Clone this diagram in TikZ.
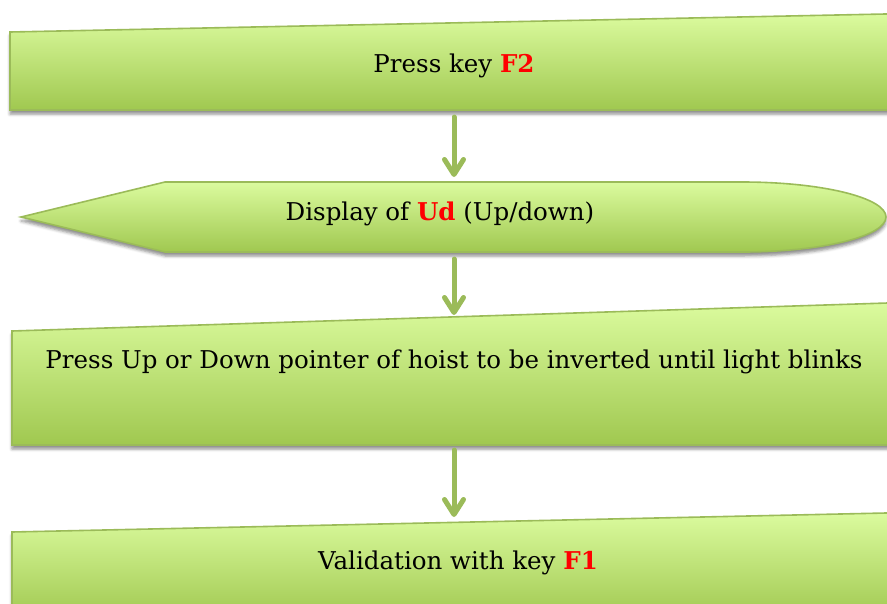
\documentclass[tikz,border=0pt]{standalone}
\usepackage{fontspec}
\setmainfont{DejaVu Serif}
\usetikzlibrary{arrows.meta,shadows.blur}
\definecolor{leafline}{RGB}{155,187,89}
\definecolor{leaftop}{RGB}{219,251,158}
\definecolor{leafbot}{RGB}{160,200,80}
\definecolor{keyred}{RGB}{255,0,0}
\begin{document}
\begin{tikzpicture}[x=1pt,y=-1pt,
  stepshape/.style={draw=leafline,line width=1.6pt,top color=leaftop,bottom color=leafbot,
    blur shadow={shadow xshift=0pt,shadow yshift=-4pt,shadow blur radius=3pt,shadow opacity=45}},
  steptext/.style={anchor=base,font=\fontsize{24.5}{29}\selectfont,inner sep=0pt},
  flow/.style={draw=leafline,line width=5pt,line cap=round,-{Straight Barb[length=15pt,width=19pt,round]}}]
\useasboundingbox (0,0) rectangle (887,603);
\clip (0,0) rectangle (887,603);
% shapes of the four steps
\path[stepshape] (10,32) -- (900,13.7) -- (900,110) -- (10,110) -- cycle;
\path[stepshape] (21,217) -- (165,182) -- (742,182) arc[start angle=-90,end angle=90,x radius=144,y radius=35] -- (165,252) -- cycle;
\path[stepshape] (12,331) -- (900,302.6) -- (900,445) -- (12,445) -- cycle;
\path[stepshape] (12,532) -- (900,512.7) -- (900,620) -- (12,620) -- cycle;
% texts
\node[steptext] (presskey) at (454,72) {Press key \textcolor{keyred}{\textbf{F2}}};
\node[steptext] (display) at (440,220) {Display of \textcolor{keyred}{\textbf{Ud}} (Up/down)};
\node[steptext] (pointer) at (454,368) {Press Up or Down pointer of hoist to be inverted until light blinks};
\node[steptext] (validate) at (458,569) {Validation with key \textcolor{keyred}{\textbf{F1}}};
% ends of the connectors
\coordinate (presskey-out) at (454,117);\coordinate (display-in) at (454,177);
\coordinate (display-out) at (454,259);\coordinate (pointer-in) at (454,315);
\coordinate (pointer-out) at (454,450);\coordinate (validate-in) at (454,517);
\draw[flow] (presskey-out) -- (display-in);
\draw[flow] (display-out) -- (pointer-in);
\draw[flow] (pointer-out) -- (validate-in);
\end{tikzpicture}
\end{document}
